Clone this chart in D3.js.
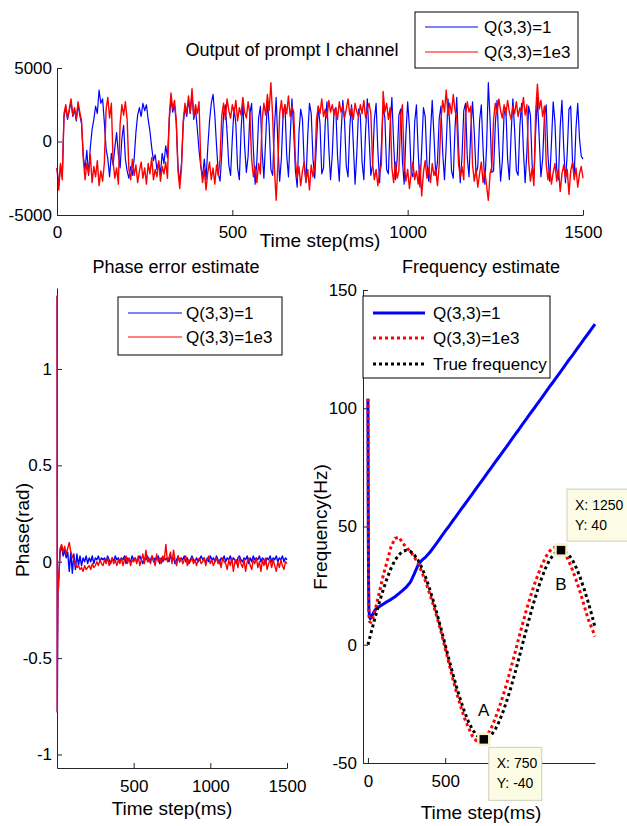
<!DOCTYPE html>
<html>
<head>
<meta charset="utf-8">
<script src="https://cdn.jsdelivr.net/npm/d3@7"></script>
<style>
  body { margin: 0; background: #fff; }
  svg { display: block; }
</style>
</head>
<body>
<svg id="fig" width="627" height="826"></svg>
<script>
// ---- data ----
const seriesNames = ["Q(3,3)=1", "Q(3,3)=1e3"];
const freqNames = ["Q(3,3)=1", "Q(3,3)=1e3", "True frequency"];

// top panel: prompt I output, one sample every 5 ms from 0 to 1500
const topStep = 5;
const topXTicks = [0, 500, 1000, 1500];
const topYTicks = [-5000, 0, 5000];
const topBlue = [
  -1800,-3000,-1600,-2400,1700,2300,1500,2100,2700,1700,2200,1400,2500,1800,1200,-1000,-1900,-600,-2300,-400,
  800,1500,2400,1900,3500,2600,2900,1300,-500,-1200,-2400,-800,-1600,-400,600,-900,-1800,200,1100,-1200,
  -2000,-2500,-1700,-2300,-1200,600,1800,2300,1700,2600,2100,2500,1500,700,-400,-1300,-900,-1900,-1400,-2200,
  -800,-1500,-300,-1100,1400,2900,2000,2500,1300,-1700,-2800,-1500,1200,2300,1700,2800,1900,3300,1500,2200,
  900,-600,-1700,-2400,-1200,-2600,-400,1400,2600,3200,1800,-300,-2200,-2700,-800,1900,2500,600,-1600,-2300,
  200,2300,1200,-1800,-2600,800,2700,-300,-2100,-1000,1900,2600,-500,-2900,-1300,1600,2400,-700,-2500,100,
  2800,1100,-1900,-2300,900,3000,-200,-2700,-1100,2000,2500,-900,-2400,300,2900,700,-2000,-3100,600,2200,
  1500,-1600,-2800,400,2600,1900,-1200,-2500,-100,2400,1200,-2200,-1800,1300,2700,-400,-2600,-900,2100,2300,
  -1000,-2700,500,2800,1400,-1700,-2400,1000,2500,-200,-2900,-800,2200,1800,-1400,-2600,700,2900,300,-2300,
  -1600,1500,2600,-600,-2800,-300,2400,1600,-1900,-2200,1100,3000,-100,-2600,-1200,1800,2200,-1300,-2900,500,
  2700,1000,-2100,-2400,1300,2500,-700,-3100,-500,2300,1700,-1500,-2700,600,2800,400,-2300,-1400,1600,2400,
  -800,-2600,-200,2900,1200,-2000,-2500,900,3000,-300,-2800,-1000,2100,2600,-1100,-2400,800,2700,600,-2200,
  -1700,1400,2500,-500,-2900,-400,4000,1500,-2100,-2000,1200,2800,-200,-2700,-1300,1900,2300,-1200,-2600,500,
  2900,800,-2000,-2300,1100,2600,-600,-2800,-700,2400,1800,-1600,-2500,700,3000,300,-2400,-1200,1700,2500,
  -900,-2700,-100,2700,1300,-1900,-2600,1000,2800,-400,-2800,-800,2200,2400,-1300,-2300,900,2600,200,-1000,
  -1200
];
const topRed = [
  -1800,-3300,-1500,-2600,1900,2500,1600,2200,2900,1800,2300,1500,2700,2000,1400,-1200,-2600,-1500,-2200,-900,
  -2800,-1700,-2400,-1300,-3000,-2000,-2700,-1500,2200,3000,1600,2600,-1400,-2500,-1800,-2900,1200,2500,1800,2700,
  1500,-1900,-2600,-1200,-2300,-1600,-2800,-2000,-1400,-2500,-1800,-2900,-1500,-2200,-1100,-2600,-1900,-2400,-1300,-2700,
  -1700,-2200,-1400,-2500,1600,3300,2200,2800,1500,-2000,-3200,-1800,1400,2600,1900,3100,2000,3600,1700,2500,
  1900,2700,-1500,-2800,-1900,-3300,-2100,-1400,-2600,-1800,-2900,-1600,-2300,-1200,1800,2600,1500,2900,2100,1600,
  2500,1900,2800,1400,2300,1800,3000,2000,1600,2700,1900,-1200,-2400,-1700,-2800,-1500,-2200,1500,2600,1800,
  3200,2100,4000,1700,-1800,-4000,-1500,1900,2800,1600,2500,1900,3100,1700,2400,2000,-1300,-2500,-1700,-3000,
  -2000,-1400,-2700,-1900,-3300,-1600,-2400,-1800,1500,2400,1900,2900,1700,2200,1600,2800,2000,2500,1800,2300,
  1500,2700,2000,2400,1600,2200,2900,1800,2300,1500,2600,2000,1700,2500,1900,2800,1600,2200,2600,1900,
  -1500,-2600,-1900,-3000,-2100,-1600,3400,2000,2600,1500,2300,-1800,-2800,-1400,-2500,-2000,1800,2500,-1500,-2700,
  -1900,-3200,-2200,-1400,-2600,-2000,-2900,-1600,-3700,-2100,-1300,-2500,-1800,-2800,-1500,-2300,-1900,-3000,-1600,1500,
  2800,2000,3500,1800,2600,1900,3200,2100,1600,-1500,-2400,-1700,-2600,1800,2700,2000,2400,-1600,-2700,-1900,
  -3100,-2200,-1400,-2800,-2000,-3000,-4000,-2200,-1700,1500,2600,1900,2900,2100,1600,2500,1800,2800,2000,1500,
  2400,1900,2700,1700,2300,2000,3000,1800,2500,-1400,-2700,-1800,-3000,2000,3900,2200,2800,1700,2400,-1500,
  -2600,-1800,-2900,-2100,-1500,-2700,-1900,-3400,-2200,-1600,-2500,-1900,-3600,-2000,-1400,-2600,-1800,-3100,-2200,-1700,
  -2500
];

// phase error: first milliseconds, then one sample every 10 ms from 10 to 1500
const phaseStartTime = [1, 2, 3, 5, 7];
const phaseStartBlue = [1.38, -0.78, -0.55, -0.3, -0.1];
const phaseStartRed = [1.38, -0.78, -0.42, -0.22, -0.06];
const phaseStep = 10;
const phaseXTicks = [500, 1000, 1500];
const phaseYTicks = [-1, -0.5, 0, 0.5, 1];
const phaseBlue = [
  -0.10,0.05,0.08,0.03,0.06,0.02,0.05,-0.05,0.05,-0.06,
  0.04,-0.04,0.04,-0.02,0.03,-0.02,0.02,0.00,0.03,-0.01,
  0.02,0.00,0.03,-0.01,0.02,0.01,0.03,0.00,0.02,0.01,
  0.02,0.00,0.03,0.01,-0.01,0.02,0.00,0.03,0.01,0.02,
  0.00,0.02,0.01,0.03,-0.01,0.02,0.01,0.00,0.03,0.01,
  0.02,0.00,0.01,0.03,0.01,-0.01,0.02,0.01,0.03,0.00,
  0.01,0.03,0.00,0.02,0.01,0.03,-0.01,0.02,0.00,0.02,
  0.01,0.02,0.00,0.03,0.01,0.02,-0.01,0.01,0.03,0.00,
  0.02,0.01,0.03,0.00,0.02,-0.01,0.01,0.03,0.01,0.00,
  0.02,0.00,0.01,0.03,0.01,0.02,-0.01,0.02,0.00,0.03,
  0.01,0.02,0.00,0.03,0.01,-0.01,0.02,0.01,0.03,0.00,
  0.02,0.01,0.03,0.00,0.02,0.01,-0.01,0.02,0.03,0.01,
  0.00,0.02,0.01,0.03,-0.01,0.02,0.00,0.03,0.01,0.02,
  0.01,0.03,0.00,0.02,0.01,-0.01,0.02,0.01,0.03,0.00,
  0.02,0.01,0.03,0.00,0.02,0.01,0.03,0.00,0.02,0.01
];
const phaseRed = [
  -0.14,0.07,0.09,0.05,0.08,0.04,0.07,0.10,0.05,0.03,
  0.01,-0.01,-0.03,-0.02,-0.04,-0.03,-0.05,-0.02,-0.04,-0.03,
  -0.02,-0.04,-0.01,-0.03,-0.02,0.00,-0.02,0.01,-0.01,-0.02,
  0.01,-0.01,0.02,-0.02,0.00,0.02,-0.01,0.01,-0.02,0.01,
  -0.01,0.02,-0.02,0.01,0.03,-0.01,0.02,-0.02,0.01,0.00,
  0.02,-0.01,0.03,-0.02,0.01,0.04,-0.01,0.06,0.00,0.02,
  -0.01,0.03,0.01,-0.02,0.04,0.00,0.02,-0.01,0.03,0.01,
  0.09,0.00,0.02,0.05,-0.01,0.06,0.01,-0.02,0.03,0.00,
  0.02,-0.01,0.01,0.03,-0.02,0.01,0.00,0.02,-0.01,0.01,
  -0.02,0.01,0.02,-0.01,0.00,0.02,-0.02,0.01,0.03,-0.01,
  0.01,-0.02,0.00,0.02,-0.01,0.01,-0.03,0.02,0.00,-0.01,
  -0.04,0.01,-0.02,0.02,-0.05,0.00,0.01,-0.03,0.02,-0.01,
  -0.03,0.01,-0.05,0.00,0.02,-0.02,-0.04,0.01,-0.01,0.02,
  -0.03,0.00,-0.05,0.01,-0.02,0.02,-0.04,-0.01,0.01,-0.03,
  0.01,-0.02,-0.05,0.00,-0.03,0.01,-0.02,-0.04,0.00,-0.01
];

// frequency estimate (Hz); the 1000 tick label sits under the cursor box in the figure
const freqXTicks = [0, 500, 1000];
const freqXTickLabels = ["0", "500", ""];
const freqYTicks = [-50, 0, 50, 100, 150];
const freqTime = [0,2,4,6,10,15,20,30,40,50,
  75,100,125,150,175,200,225,250,275,300,325,350,375,400,425,450,475,500,525,550,575,600,625,650,675,
  700,725,750,775,800,825,850,875,900,925,950,975,1000,1025,1050,1075,1100,1125,1150,1175,1200,1225,
  1250,1275,1300,1325,1350,1375,1400,1425,1450,1470];
const freqQ1 = [104,58,26,15,12,11,11.5,12.8,14,15,
  16.2,17.2,18.3,19.2,20.3,21.6,23,24.5,26.5,30,33.8,35.8,37.2,39,41.2,43.4,45.7,48,50.2,52.5,54.7,57,59.2,61.5,63.7,
  66,68.2,70.5,72.8,75,77.3,79.5,81.8,84,86.3,88.6,90.8,93.2,95.4,97.7,99.9,102.2,104.4,106.7,109,111.2,113.5,
  115.7,118,120.3,122.5,124.8,127,129.3,131.5,133.8,135.6];
const freqQ1e3 = [104,60,25,13,10,9.5,9.5,11,13,15.5,
  22.5,29.5,35.5,41.5,45,45.5,43,41,39.5,37,34.5,30.5,26.5,21.5,16.5,11,5,-1.5,-8,-14.5,-20.5,-26,-31,-35,-38.5,
  -40.5,-41,-40,-38,-35,-31,-26.5,-21.5,-16,-10,-4,2.5,8.5,14.5,20,25,29.5,33.5,37,39.5,41,41.5,
  40.5,38.5,35.5,31.5,27,22,16.5,11,7,3.5];
const freqTrue = [0,0.5,1,1.5,2.5,3.8,5,7.5,10,12.4,
  18.2,23.5,28.3,32.4,35.7,38,39.5,40,39.5,38,35.7,32.4,28.3,23.5,18.2,12.4,6.3,0,-6.3,-12.4,-18.2,-23.5,-28.3,-32.4,-35.7,
  -38,-39.5,-40,-39.5,-38,-35.7,-32.4,-28.3,-23.5,-18.2,-12.4,-6.3,0,6.3,12.4,18.2,23.5,28.3,32.4,35.7,38,39.5,
  40,39.5,38,35.7,32.4,28.3,23.5,18.2,12.4,7.4];

// data cursors
const tipLabels = ["A", "B"];
const tipX = [750, 1250];
const tipY = [-40, 40];

// ---- drawing ----
const FONT = '"Liberation Sans", Arial, Helvetica, sans-serif';
const BLUE = "#0000ff", RED = "#ff0000", INK = "#262626";
const svg = d3.select("#fig");
const fmt = d => String(d);

/** axis group with matlab-ish look (ticks pointing inward) */
const drawAxis = (axis, tx, ty) => {
    const g = svg.append("g")
        .attr("transform", `translate(${tx},${ty})`)
        .call(axis);
    g.attr("font-family", FONT).attr("font-size", 17);
    g.select(".domain").attr("stroke", INK);
    g.selectAll(".tick line").attr("stroke", INK);
    g.selectAll(".tick text").attr("fill", "#000");
    return g;
};

const drawLine = (xs, ys, x, y, color, width, dash) => svg.append("path")
    .datum(ys)
    .attr("d", d3.line().x((d, i) => x(xs[i])).y(d => y(d)))
    .attr("fill", "none")
    .attr("stroke", color)
    .attr("stroke-width", width)
    .attr("stroke-linejoin", "round")
    .attr("stroke-dasharray", dash || null);

const drawText = (txt, x, y, size, anchor, rotate) => svg.append("text")
    .attr("x", x).attr("y", y)
    .attr("transform", rotate ? `rotate(-90,${x},${y})` : null)
    .attr("text-anchor", anchor || "middle")
    .attr("font-family", FONT)
    .attr("font-size", size)
    .attr("fill", "#000")
    .text(txt);

const drawLegend = (box, rows) => {
    svg.append("rect")
        .attr("x", box.x).attr("y", box.y)
        .attr("width", box.w).attr("height", box.h)
        .attr("fill", "#fff").attr("stroke", "#000").attr("stroke-width", 1);
    rows.forEach(r => {
        svg.append("line")
            .attr("x1", box.x + box.lx0).attr("x2", box.x + box.lx1)
            .attr("y1", r.y).attr("y2", r.y)
            .attr("stroke", r.color).attr("stroke-width", r.width)
            .attr("stroke-dasharray", r.dash || null);
        drawText(r.label, box.x + box.tx, r.y, 17, "start").attr("dy", "0.36em");
    });
};

// TOP PANEL
const topTime = d3.range(0, 1501, topStep);
const xTop = d3.scaleLinear().domain([0, 1500]).range([57, 583]);
const yTop = d3.scaleLinear().domain([-5000, 5000]).range([215, 68]);
drawLine(topTime, topBlue, xTop, yTop, BLUE, 1.2);
drawLine(topTime, topRed, xTop, yTop, RED, 1.4);
drawAxis(d3.axisLeft(yTop).tickValues(topYTicks).tickFormat(fmt)
    .tickSize(-5).tickSizeOuter(0).tickPadding(5), 57, 0);
drawAxis(d3.axisBottom(xTop).tickValues(topXTicks).tickFormat(fmt)
    .tickSize(-5).tickSizeOuter(0).tickPadding(11), 0, 215);
drawText("Output of prompt I channel", 292, 56, 18);
drawText("Time step(ms)", 320, 247, 19);
drawLegend({x: 415, y: 12, w: 163, h: 56, lx0: 10, lx1: 63, tx: 69}, [
    {label: seriesNames[0], color: BLUE, width: 1, y: 27},
    {label: seriesNames[1], color: RED, width: 1, y: 52}
]);

// PHASE PANEL
const phaseTime = phaseStartTime.concat(d3.range(10, 1501, phaseStep));
const xPh = d3.scaleLinear().domain([0, 1500]).range([57, 287]);
const yPh = d3.scaleLinear().domain([-1.07, 1.42]).range([768, 288]);
drawAxis(d3.axisLeft(yPh).tickValues(phaseYTicks).tickFormat(fmt)
    .tickSize(-5).tickSizeOuter(0).tickPadding(5), 57, 0);
drawAxis(d3.axisBottom(xPh).tickValues(phaseXTicks).tickFormat(fmt)
    .tickSize(-5).tickSizeOuter(0).tickPadding(12), 0, 768);
drawLine(phaseTime, phaseStartBlue.concat(phaseBlue), xPh, yPh, BLUE, 1.4);
drawLine(phaseTime, phaseStartRed.concat(phaseRed), xPh, yPh, RED, 1.4);
drawText("Phase error estimate", 176, 273, 18);
drawText("Time step(ms)", 172, 815, 19);
drawText("Phase(rad)", 29, 530, 19, "middle", true);
drawLegend({x: 118, y: 297, w: 164, h: 58, lx0: 10, lx1: 64, tx: 68}, [
    {label: seriesNames[0], color: BLUE, width: 1, y: 313},
    {label: seriesNames[1], color: RED, width: 1, y: 337}
]);

// FREQUENCY PANEL
const xFr = d3.scaleLinear().domain([-32, 1470]).range([363, 595]);
const yFr = d3.scaleLinear().domain([-50, 150]).range([763, 290]);
drawAxis(d3.axisLeft(yFr).tickValues(freqYTicks).tickFormat(fmt)
    .tickSize(-5).tickSizeOuter(0).tickPadding(6), 363, 0);
drawAxis(d3.axisBottom(xFr).tickValues(freqXTicks)
    .tickFormat((d, i) => freqXTickLabels[i])
    .tickSize(-5).tickSizeOuter(0).tickPadding(12), 0, 763);
drawLine(freqTime, freqQ1, xFr, yFr, BLUE, 3);
drawLine(freqTime, freqQ1e3, xFr, yFr, RED, 3, "3,3");
drawLine(freqTime, freqTrue, xFr, yFr, "#000", 3, "3,3");
drawText("Frequency estimate", 481, 273, 18);
drawText("Time step(ms)", 481, 819, 19);
drawText("Frequency(Hz)", 327, 527, 19, "middle", true);
drawLegend({x: 363, y: 296, w: 187, h: 82, lx0: 10, lx1: 62, tx: 70}, [
    {label: freqNames[0], color: BLUE, width: 3, y: 313},
    {label: freqNames[1], color: RED, width: 3, y: 338, dash: "3,3"},
    {label: freqNames[2], color: "#000", width: 3, y: 364, dash: "3,3"}
]);

// data cursors: marker, letter and yellow tip box
const tipLayout = [
    {bx: 5, by: 8, bw: 53, bh: 53, ly: -23},
    {bx: 6, by: -61, bw: 70, bh: 52, ly: 40}
];
tipLabels.forEach((lab, i) => {
    const cx = xFr(tipX[i]), cy = yFr(tipY[i]);
    const L = tipLayout[i];
    svg.append("rect")
        .attr("x", cx + L.bx).attr("y", cy + L.by)
        .attr("width", L.bw).attr("height", L.bh)
        .attr("fill", "#fcfce4").attr("stroke", "#cfcfbd").attr("stroke-width", 1);
    drawText(`X: ${tipX[i]}`, cx + L.bx + 8, cy + L.by + 21, 14, "start");
    drawText(`Y: ${tipY[i]}`, cx + L.bx + 8, cy + L.by + 41, 14, "start");
    svg.append("rect")
        .attr("x", cx - 5.5).attr("y", cy - 5.5)
        .attr("width", 11).attr("height", 11)
        .attr("fill", "#000").attr("stroke", "#f6f1c8").attr("stroke-width", 2.5);
    drawText(lab, cx, cy + L.ly, 17);
});
</script>
</body>
</html>
